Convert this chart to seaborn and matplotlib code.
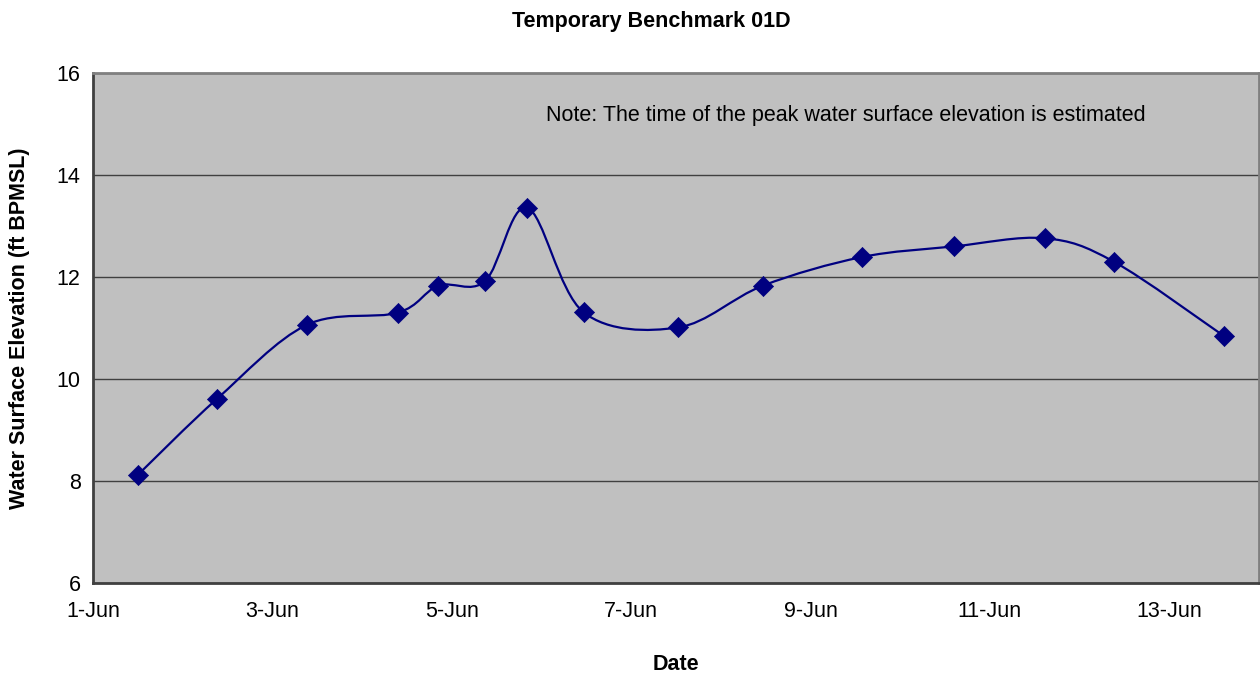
import matplotlib.pyplot as plt
import matplotlib.dates as mdates
import numpy as np
import pandas as pd
import seaborn as sns
from matplotlib.patches import PathPatch
from matplotlib.path import Path

times = [
    "2008-06-01 12:00", "2008-06-02 09:10", "2008-06-03 09:10", "2008-06-04 09:35",
    "2008-06-04 20:25", "2008-06-05 08:55", "2008-06-05 20:10", "2008-06-06 11:15",
    "2008-06-07 12:30", "2008-06-08 11:15", "2008-06-09 13:40", "2008-06-10 14:25",
    "2008-06-11 14:40", "2008-06-12 09:10", "2008-06-13 14:40",
]
elevation = [8.12, 9.61, 11.06, 11.30, 11.83, 11.92, 13.36, 11.31,
             11.01, 11.83, 12.39, 12.60, 12.76, 12.30, 10.84]
tick_dates = ["2008-06-01", "2008-06-03", "2008-06-05", "2008-06-07",
              "2008-06-09", "2008-06-11", "2008-06-13"]
tick_labels = ["1-Jun", "3-Jun", "5-Jun", "7-Jun", "9-Jun", "11-Jun", "13-Jun"]

df = pd.DataFrame({"time": pd.to_datetime(times), "elev": elevation})

sns.set_style("white")
plt.rcParams["font.family"] = ["Liberation Sans", "DejaVu Sans"]
plt.rcParams["text.color"] = "black"
plt.rcParams["axes.labelcolor"] = "black"

fs = 15.5
navy = "#000080"
fig = plt.figure(figsize=(12.6, 6.73), dpi=100)
ax = fig.add_axes([93 / 1260, 1 - 583 / 673, 1166 / 1260, 510 / 673])
ax.set_facecolor("#C0C0C0")

# Smoothed line (Excel style bezier through the points)
xs = mdates.date2num(df["time"])
ys = df["elev"].to_numpy()
pts = np.column_stack([xs, ys])
verts = [pts[0]]
codes = [Path.MOVETO]
n = len(pts)
for i in range(n - 1):
    p0 = pts[i - 1] if i > 0 else pts[i]
    p1, p2 = pts[i], pts[i + 1]
    p3 = pts[i + 2] if i + 2 < n else pts[i + 1]
    c1 = p1 + (p2 - p0) / 6
    c2 = p2 - (p3 - p1) / 6
    verts += [c1, c2, p2]
    codes += [Path.CURVE4] * 3
ax.add_patch(PathPatch(Path(verts, codes), fill=False, edgecolor=navy, lw=1.6, zorder=3))

sns.scatterplot(data=df, x="time", y="elev", marker="D", s=105, color=navy,
                edgecolor=navy, linewidth=0.5, zorder=4, ax=ax)

ax.set_xlim(pd.Timestamp("2008-06-01"), pd.Timestamp("2008-06-14"))
ax.set_ylim(6, 16)
ax.set_yticks([6, 8, 10, 12, 14, 16])
ax.set_xticks(pd.to_datetime(tick_dates))
ax.set_xticklabels(tick_labels)
ax.tick_params(axis="both", direction="out", length=5, width=1, color="#404040",
               labelsize=fs, labelcolor="black")
ax.tick_params(axis="x", pad=8)
ax.tick_params(axis="y", pad=4)

ax.grid(axis="y", color="#404040", lw=1)
ax.grid(axis="x", visible=False)
ax.set_axisbelow(True)

for side in ["left", "bottom"]:
    ax.spines[side].set_color("#404040")
    ax.spines[side].set_linewidth(2)
for side in ["top", "right"]:
    ax.spines[side].set_color("#808080")
    ax.spines[side].set_linewidth(2)

ax.set_xlabel("Date", fontsize=fs, fontweight="bold")
ax.xaxis.set_label_coords(0.5, -0.14)
ax.set_ylabel("Water Surface Elevation (ft BPMSL)", fontsize=fs, fontweight="bold")
ax.yaxis.set_label_coords(-0.054, 0.5)

ax.text(0.3885, 0.9157, "Note: The time of the peak water surface elevation is estimated",
        transform=ax.transAxes, fontsize=fs, va="center", ha="left")
fig.text(651 / 1260, 1 - 22 / 673, "Temporary Benchmark 01D", ha="center", va="center",
         fontsize=fs, fontweight="bold")

plt.savefig("out.png", dpi=100)
